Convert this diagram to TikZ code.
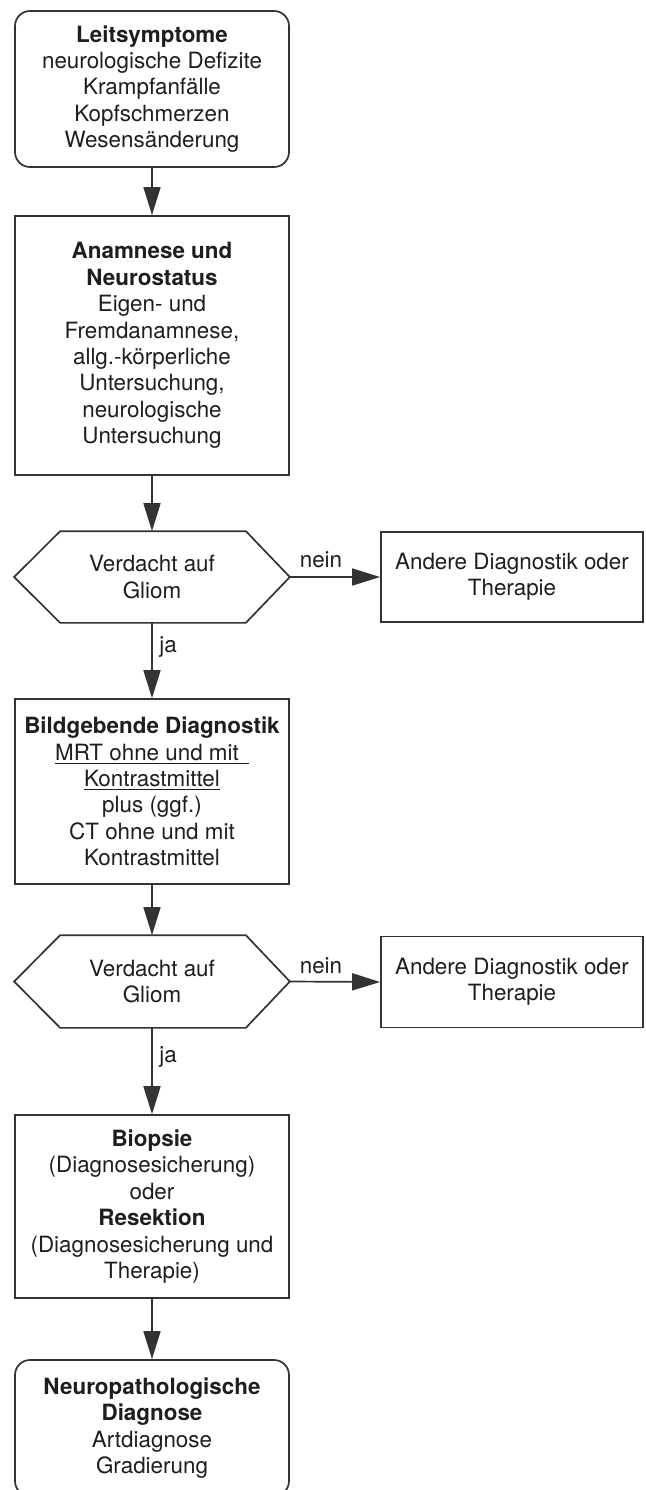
\documentclass[tikz,border=0pt]{standalone}
\usepackage{fontspec}
\setmainfont{TeX Gyre Heros}
\usetikzlibrary{arrows.meta,calc}
\definecolor{ln}{HTML}{333333}
\definecolor{tx}{HTML}{1E1E1E}
\begin{document}
\begin{tikzpicture}[x=0.5pt,y=-0.5pt,
  base/.style={draw=ln, line width=0.85pt, text=tx, align=center,
    font=\fontsize{11.2}{13.2}\selectfont, inner sep=0pt},
  leftbox/.style={base, minimum width=137pt},
  roundbox/.style={leftbox, rounded corners=7.5pt},
  sidebox/.style={base, minimum width=131pt},
  hexnode/.style={base, draw=none, minimum width=137pt},
  hexline/.style={draw=ln, line width=0.85pt, line join=miter},
  arr/.style={draw=ln, line width=0.85pt, -{Triangle[length=14pt,width=8.5pt]}},
  lbl/.style={text=tx, font=\fontsize{11.2}{13.2}\selectfont, inner sep=0pt}
]
\useasboundingbox (0,0) rectangle (645,1490);
\fill[white] (0,0) rectangle (645,1490);

% boxes
\node[roundbox, minimum height=78pt] (b1) at (152,89)
  {\textbf{Leitsymptome}\\neurologische Defizite\\Krampfanfälle\\Kopfschmerzen\\Wesensänderung};
\node[leftbox, minimum height=129.5pt] (b2) at (152,345.5)
  {\textbf{Anamnese und}\\\textbf{Neurostatus}\\Eigen- und\\Fremdanamnese,\\allg.-körperliche\\Untersuchung,\\neurologische\\Untersuchung};
\node[hexnode, minimum height=45pt] (h1) at (152,577) {Verdacht auf\\Gliom};
\node[sidebox, minimum height=45pt] (r1) at (512,577) {Andere Diagnostik oder\\Therapie};
\node[leftbox, minimum height=92.5pt] (b3) at (152,791.5)
  {\textbf{Bildgebende Diagnostik}\\\underline{MRT ohne und mit\ \,}\\\underline{Kontrastmittel}\\plus (ggf.)\\CT ohne und mit\\Kontrastmittel};
\node[hexnode, minimum height=45.5pt] (h2) at (152,981.5) {Verdacht auf\\Gliom};
\node[sidebox, minimum height=45.5pt] (r2) at (512,982) {Andere Diagnostik oder\\Therapie};
\node[leftbox, minimum height=91.5pt] (b4) at (152,1206.5)
  {\textbf{Biopsie}\\(Diagnosesicherung)\\oder\\\textbf{Resektion}\\(Diagnosesicherung und\\Therapie)};
\node[roundbox, minimum height=68pt] (b5) at (152,1428)
  {\textbf{Neuropathologische}\\\textbf{Diagnose}\\Artdiagnose\\Gradierung};

% hexagon outlines
\foreach \h in {h1,h2}{
  \draw[hexline] (\h.west) -- ([xshift=23pt]\h.north west) -- ([xshift=-22pt]\h.north east)
    -- (\h.east) -- ([xshift=-22pt]\h.south east) -- ([xshift=23pt]\h.south west) -- cycle;
}

% connectors
\draw[arr] (b1) -- (b2);
\draw[arr] (b2) -- (h1.north);
\draw[arr] (h1.east) -- (r1.west);
\draw[arr] (h1.south) -- (b3.north);
\draw[arr] (b3) -- (h2.north);
\draw[arr] (h2.east) -- (r2.west);
\draw[arr] (h2.south) -- (b4.north);
\draw[arr] (b4) -- (b5);

% labels
\node[lbl] (n1) at (321,560) {nein};
\node[lbl] (j1) at (168,647) {ja};
\node[lbl] (n2) at (321,966) {nein};
\node[lbl] (j2) at (168,1057) {ja};
\end{tikzpicture}
\end{document}
